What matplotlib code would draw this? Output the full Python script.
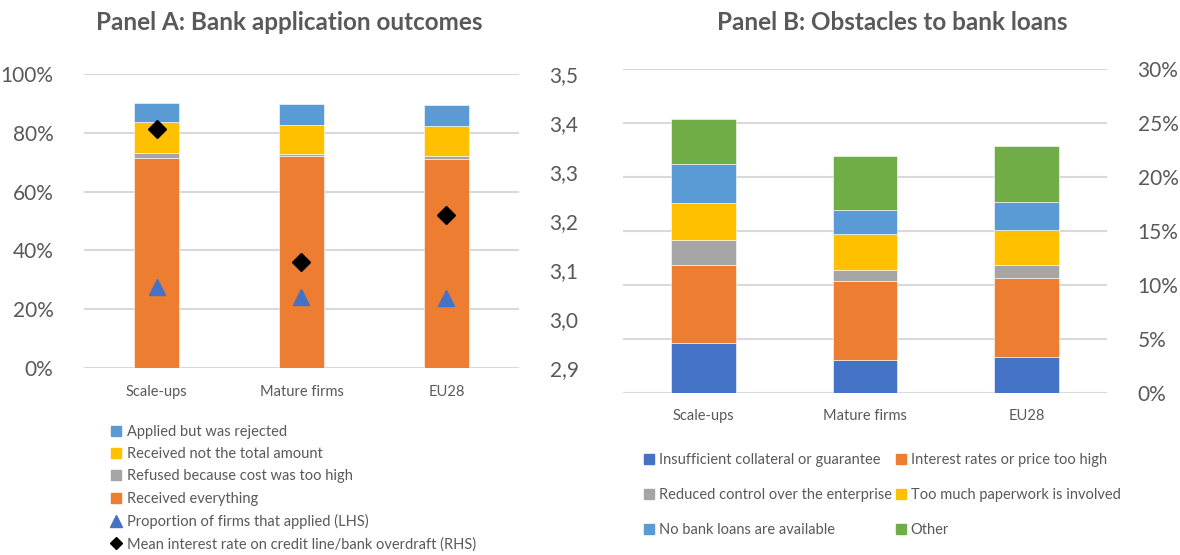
import matplotlib.pyplot as plt
import numpy as np
from matplotlib.lines import Line2D
from matplotlib.ticker import FuncFormatter

plt.rcParams['font.family'] = ['Lato', 'DejaVu Sans']

TXT = '#595959'
GRID = '#d9d9d9'

# ── Data ─────────────────────────────────────────────────────────────────────
groups = ['Scale-ups', 'Mature firms', 'EU28']

# Panel A: bank application outcomes (% of firms that applied)
received_all = [71.5, 72.1, 71.2]
refused_cost = [1.5, 0.8, 0.9]
received_part = [10.8, 9.9, 10.1]
rejected = [6.2, 7.0, 7.1]
share_applied = [27.7, 24.3, 23.8]          # LHS
mean_rate = [3.387, 3.116, 3.212]           # RHS

# Panel B: obstacles to bank loans (% of firms)
collateral = [4.6, 3.0, 3.3]
interest_high = [7.2, 7.3, 7.3]
reduced_control = [2.3, 1.1, 1.2]
paperwork = [3.45, 3.3, 3.3]
no_loans = [3.6, 2.2, 2.6]
other = [4.15, 5.0, 5.1]

C_BLUE = '#4472C4'
C_ORANGE = '#ED7D31'
C_GRAY = '#A5A5A5'
C_YELLOW = '#FFC000'
C_LBLUE = '#5B9BD5'
C_GREEN = '#70AD47'

fig = plt.figure(figsize=(11.8, 5.55), dpi=100)

x = np.arange(len(groups))


def style_axis(ax):
    for s in ax.spines.values():
        s.set_visible(False)
    ax.yaxis.grid(True, color=GRID, linewidth=1.5)
    ax.set_axisbelow(True)
    ax.tick_params(length=0, colors=TXT)


# ── Panel A ──────────────────────────────────────────────────────────────────
axA = fig.add_axes([0.0712, 0.3369, 0.3686, 0.5297])
style_axis(axA)
stackA = [(received_all, C_ORANGE, 'Received everything'),
          (refused_cost, C_GRAY, 'Refused because cost was too high'),
          (received_part, C_YELLOW, 'Received not the total amount'),
          (rejected, C_LBLUE, 'Applied but was rejected')]
bottom = np.zeros(len(groups))
for vals, col, lab in stackA:
    axA.bar(x, vals, 0.31, bottom=bottom, color=col, edgecolor='white',
            linewidth=0.4, zorder=2)
    bottom += np.array(vals)
axA.plot(x, share_applied, '^', color=C_BLUE, markersize=12, zorder=4)
axA.set_xlim(-0.5, 2.5)
axA.set_ylim(0, 100)
axA.set_yticks(np.arange(0, 101, 20))
axA.yaxis.set_major_formatter(FuncFormatter(lambda v, p: f'{v:.0f}%'))
axA.tick_params(axis='y', labelsize=15, pad=22)
axA.set_xticks(x)
axA.set_xticklabels(groups, fontsize=10.5)
axA.tick_params(axis='x', pad=12)

axA2 = axA.twinx()
for s in axA2.spines.values():
    s.set_visible(False)
axA2.plot(x, mean_rate, 'D', color='black', markersize=9.5, zorder=5)
axA2.set_ylim(2.9, 3.5)
axA2.set_yticks(np.arange(2.9, 3.51, 0.1))
axA2.yaxis.set_major_formatter(FuncFormatter(lambda v, p: f'{v:.1f}'.replace('.', ',')))
axA2.tick_params(length=0, colors=TXT, labelsize=15, pad=22)

fig.text(0.245, 0.960, 'Panel A: Bank application outcomes', ha='center',
         va='center', fontsize=17.5, fontweight='bold', color=TXT)

legA = [
    Line2D([], [], marker='s', ls='none', color=C_LBLUE, markersize=7, label='Applied but was rejected'),
    Line2D([], [], marker='s', ls='none', color=C_YELLOW, markersize=7, label='Received not the total amount'),
    Line2D([], [], marker='s', ls='none', color=C_GRAY, markersize=7, label='Refused because cost was too high'),
    Line2D([], [], marker='s', ls='none', color=C_ORANGE, markersize=7, label='Received everything'),
    Line2D([], [], marker='^', ls='none', color=C_BLUE, markersize=8, label='Proportion of firms that applied (LHS)'),
    Line2D([], [], marker='D', ls='none', color='black', markersize=6, label='Mean interest rate on credit line/bank overdraft (RHS)'),
]
fig.legend(handles=legA, loc='upper left', bbox_to_anchor=(0.095, 0.234),
           frameon=False, fontsize=10.5, labelcolor=TXT, labelspacing=0.56,
           handlelength=0.6, handletextpad=0.4, borderpad=0, borderaxespad=0)

# ── Panel B ──────────────────────────────────────────────────────────────────
axB = fig.add_axes([0.5280, 0.2924, 0.4102, 0.5838])
style_axis(axB)
stackB = [(collateral, C_BLUE, 'Insufficient collateral or guarantee'),
          (interest_high, C_ORANGE, 'Interest rates or price too high'),
          (reduced_control, C_GRAY, 'Reduced control over the enterprise'),
          (paperwork, C_YELLOW, 'Too much paperwork is involved'),
          (no_loans, C_LBLUE, 'No bank loans are available'),
          (other, C_GREEN, 'Other')]
bottom = np.zeros(len(groups))
for vals, col, lab in stackB:
    axB.bar(x, vals, 0.40, bottom=bottom, color=col, edgecolor='white',
            linewidth=0.4, zorder=2)
    bottom += np.array(vals)
axB.set_xlim(-0.5, 2.5)
axB.set_ylim(0, 30)
axB.yaxis.tick_right()
axB.set_yticks(np.arange(0, 31, 5))
axB.yaxis.set_major_formatter(FuncFormatter(lambda v, p: f'{v:.0f}%'))
axB.tick_params(axis='y', labelsize=15, pad=22)
axB.set_xticks(x)
axB.set_xticklabels(groups, fontsize=10.5)
axB.tick_params(axis='x', pad=12)

fig.text(0.756, 0.960, 'Panel B: Obstacles to bank loans', ha='center',
         va='center', fontsize=17.5, fontweight='bold', color=TXT)

# legend fills column by column, so interleave to get row-wise order
legB = [Line2D([], [], marker='s', ls='none', color=col, markersize=7, label=lab)
        for _, col, lab in stackB]
legB = legB[0::2] + legB[1::2]
fig.legend(handles=legB, loc='upper left', bbox_to_anchor=(0.546, 0.184),
           ncol=2, frameon=False, fontsize=10.5, labelcolor=TXT,
           labelspacing=1.45, columnspacing=0.3, handlelength=0.6,
           handletextpad=0.4, borderpad=0, borderaxespad=0)

fig.savefig('out.png', dpi=100)
